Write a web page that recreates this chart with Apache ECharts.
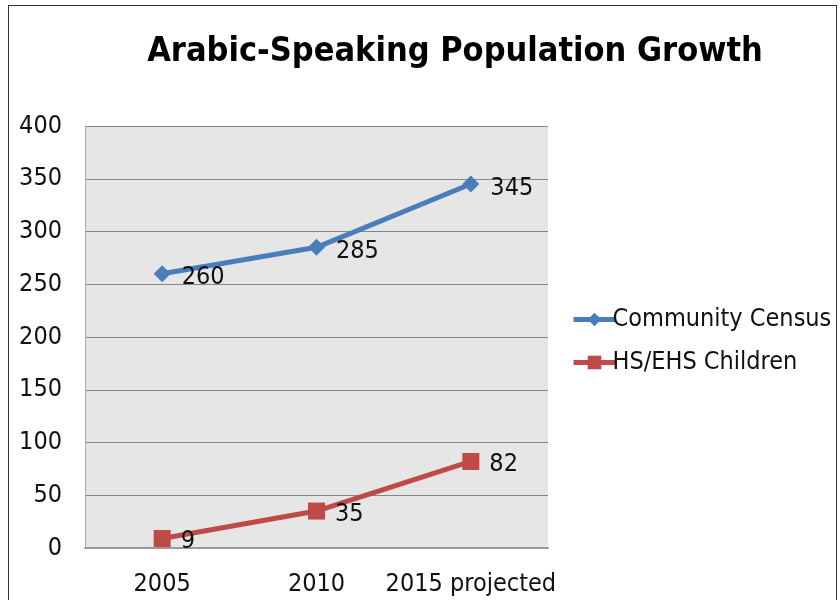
<!DOCTYPE html>
<html>
<head>
<meta charset="utf-8">
<script src="https://cdn.jsdelivr.net/npm/echarts@6/dist/echarts.min.js"></script>
<style>
  html, body { margin: 0; padding: 0; background: #fff; }
  #frame {
    position: absolute; left: 8px; top: 5px; width: 827px; height: 600px;
    border-left: 1px solid #333; border-top: 1px solid #333; border-right: 1px solid #333;
  }
  #chart { position: absolute; left: 0; top: 0; width: 840px; height: 600px; }
</style>
</head>
<body>
<div id="frame"></div>
<div id="chart"></div>
<script>
// data
const years = ["2005", "2010", "2015 projected"];
const censusVals = [260, 285, 345];
const childVals = [9, 35, 82];
const yTicks = { min: 0, max: 400, step: 50 };

const font = '"Liberation Sans Narrow", "DejaVu Sans Condensed", "Open Sans", sans-serif';
const fs = 25;

const chart = echarts.init(document.getElementById("chart"));

const option = {
  animation: false,
  title: {
    text: "Arabic-Speaking Population Growth",
    left: 450,
    top: 30,
    textAlign: "center",
    textStyle: { fontFamily: font, fontSize: 34, fontWeight: "bold", color: "#000" }
  },
  legend: {
    orient: "vertical",
    left: 566,
    top: 302,
    itemGap: 18,
    itemWidth: 42,
    itemHeight: 17,
    lineStyle: { width: 5 },
    textStyle: { fontFamily: font, fontSize: fs, color: "#111", padding: [0, 0, 0, -8] },
    data: ["Community Census", "HS/EHS Children"]
  },
  grid: {
    left: 85, top: 126, width: 463, height: 422,
    show: true, backgroundColor: "#e6e6e6", borderWidth: 0
  },
  xAxis: {
    type: "category",
    data: years,
    boundaryGap: true,
    axisLine: { show: true, lineStyle: { color: "#999", width: 2 } },
    axisTick: { show: false },
    axisLabel: { fontFamily: font, fontSize: fs, color: "#111", margin: 24, interval: 0, hideOverlap: false }
  },
  yAxis: {
    type: "value",
    min: yTicks.min, max: yTicks.max, interval: yTicks.step,
    axisLine: { show: true, lineStyle: { color: "#aaa", width: 1 } },
    axisTick: { show: false },
    splitLine: { lineStyle: { color: "#868686", width: 1 } },
    axisLabel: { fontFamily: font, fontSize: fs, color: "#111", margin: 23, align: "right" }
  },
  series: [
    {
      name: "Community Census",
      type: "line",
      data: censusVals,
      symbol: "diamond",
      symbolSize: 17,
      lineStyle: { color: "#4a7ebb", width: 5 },
      itemStyle: { color: "#4a7ebb" },
      label: {
        show: true, position: "right", distance: 11, offset: [0, 4],
        fontFamily: font, fontSize: fs, color: "#111"
      }
    },
    {
      name: "HS/EHS Children",
      type: "line",
      data: childVals,
      symbol: "rect",
      symbolSize: 17,
      lineStyle: { color: "#be4b48", width: 5 },
      itemStyle: { color: "#be4b48" },
      label: {
        show: true, position: "right", distance: 10, offset: [0, 3],
        fontFamily: font, fontSize: fs, color: "#111"
      }
    }
  ]
};

chart.setOption(option);
</script>
</body>
</html>
